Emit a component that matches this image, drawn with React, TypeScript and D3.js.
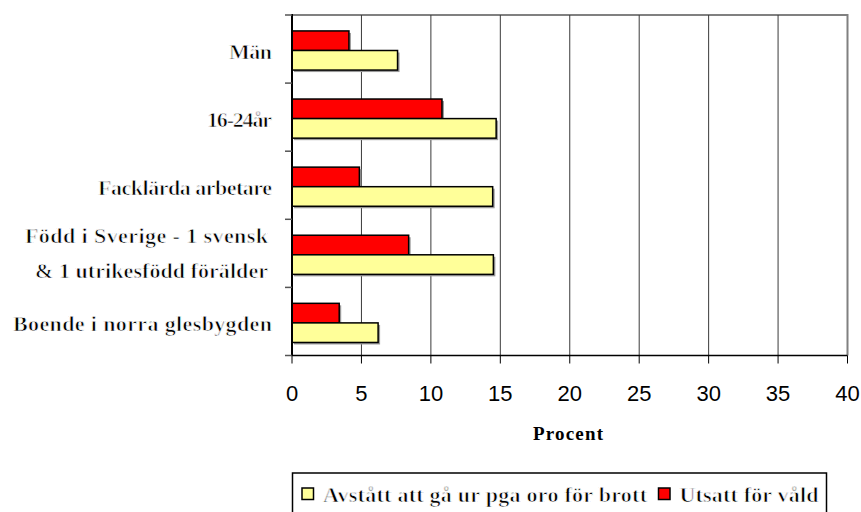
import React, { useRef, useEffect } from 'react';
import * as d3 from 'd3';

const categories = [
  'Män',
  '16-24år',
  'Facklärda arbetare',
  'Född i Sverige - 1 svensk|& 1 utrikesfödd förälder',
  'Boende i norra glesbygden',
];
const seriesNames = ['Avstått att gå ur pga oro för brott', 'Utsatt för våld'];
const avstatt = [7.6, 14.7, 14.45, 14.5, 6.2];
const utsatt = [4.1, 10.8, 4.85, 8.4, 3.4];
const xTicks = [0, 5, 10, 15, 20, 25, 30, 35, 40];

// measured widths of the label lines in the reference (px)
const labelWidths: Record<string, number> = {
  'Män': 43,
  '16-24år': 65,
  'Facklärda arbetare': 174,
  'Född i Sverige - 1 svensk': 243,
  '& 1 utrikesfödd förälder': 233,
  'Boende i norra glesbygden': 259,
};

const App = () => {
  const svgRef = useRef<SVGSVGElement>(null);

  useEffect(() => {
    const svg = d3.select(svgRef.current);
    svg.selectAll('*').remove();

    const left = 292;
    const right = 847.5;
    const top = 15;
    const bottom = 355.5;
    const serif = "'Liberation Serif', 'Times New Roman', serif";
    const sans = "'Liberation Sans', Arial, sans-serif";

    // only the bold serif face is installed: thin it with a white outline
    const serifText = (sel: any, size: number) =>
      sel.style('font-family', serif)
        .style('font-weight', 'bold')
        .style('font-size', `${size}px`)
        .attr('fill', '#000')
        .attr('stroke', '#fff')
        .attr('stroke-width', 0.75)
        .attr('lengthAdjust', 'spacing');

    const x = d3.scaleLinear().domain([0, 40]).range([left, right]);
    const y = d3.scaleBand().domain(categories).range([top, bottom]);
    const inner = d3.scaleBand()
      .domain(['utsatt', 'avstatt'])
      .range([0, y.bandwidth()])
      .paddingOuter(0.74)
      .align(0.55);

    svg.append('path')
      .attr('d', `M${left},${top}H${right}V${bottom}`)
      .attr('fill', 'none')
      .attr('stroke', '#808080')
      .attr('stroke-width', 2);

    svg.append('g')
      .selectAll('line')
      .data(xTicks.slice(1, -1))
      .enter().append('line')
      .attr('x1', d => x(d))
      .attr('x2', d => x(d))
      .attr('y1', top)
      .attr('y2', bottom)
      .attr('stroke', '#3a3a3a')
      .attr('stroke-width', 1);

    const rows = svg.append('g')
      .selectAll('g')
      .data(categories.map((c, i) => ({ c, a: avstatt[i], u: utsatt[i] })))
      .enter().append('g')
      .attr('transform', d => `translate(0,${y(d.c)})`);

    const drawBar = (key: string, val: (d: any) => number, fill: string) => {
      rows.append('rect')
        .attr('x', x(0) + 2)
        .attr('y', inner(key)! + 2)
        .attr('width', d => x(val(d)) - x(0))
        .attr('height', inner.bandwidth())
        .attr('fill', '#9a9a9a');
      rows.append('rect')
        .attr('x', x(0))
        .attr('y', inner(key)!)
        .attr('width', d => x(val(d)) - x(0))
        .attr('height', inner.bandwidth())
        .attr('fill', fill)
        .attr('stroke', '#000')
        .attr('stroke-width', 1.5);
    };
    drawBar('utsatt', d => d.u, '#ff0000');
    drawBar('avstatt', d => d.a, '#ffff99');

    // category labels
    rows.each(function (d) {
      const lines = d.c.split('|');
      const cy = y.bandwidth() / 2;
      const g = d3.select(this);
      lines.forEach((l: string, i: number) => {
        const offset = lines.length === 1 ? 10 : (i === 0 ? -10.3 : 24.3);
        const w = labelWidths[l];
        const xe = lines.length === 1 ? 272 : 268;
        serifText(g.append('text'), 22)
          .attr('x', xe - w)
          .attr('y', cy + offset)
          .attr('textLength', w)
          .text(l);
      });
    });

    // left axis
    svg.append('line')
      .attr('x1', left).attr('x2', left)
      .attr('y1', top - 1).attr('y2', bottom)
      .attr('stroke', '#000').attr('stroke-width', 2);
    svg.append('g')
      .selectAll('line')
      .data(d3.range(categories.length + 1))
      .enter().append('line')
      .attr('x1', left - 7).attr('x2', left)
      .attr('y1', i => top + i * y.step())
      .attr('y2', i => top + i * y.step())
      .attr('stroke', '#555').attr('stroke-width', 1.5);

    // bottom axis
    svg.append('line')
      .attr('x1', left).attr('x2', right)
      .attr('y1', bottom).attr('y2', bottom)
      .attr('stroke', '#000').attr('stroke-width', 1.5);
    const xt = svg.append('g')
      .selectAll('g')
      .data(xTicks)
      .enter().append('g')
      .attr('transform', d => `translate(${x(d)},0)`);
    xt.append('line')
      .attr('y1', bottom).attr('y2', bottom + 8)
      .attr('stroke', '#000').attr('stroke-width', 1);
    xt.append('text')
      .attr('y', 401)
      .attr('text-anchor', 'middle')
      .style('font-family', sans)
      .style('font-size', '22px')
      .attr('fill', '#000')
      .text(d => d);

    svg.append('text')
      .attr('x', 533)
      .attr('y', 439.5)
      .attr('textLength', 70)
      .attr('lengthAdjust', 'spacing')
      .style('font-family', serif)
      .style('font-weight', 'bold')
      .style('font-size', '19px')
      .text('Procent');

    // legend
    const lg = svg.append('g');
    lg.append('rect')
      .attr('x', 292.5).attr('y', 473)
      .attr('width', 534).attr('height', 45)
      .attr('fill', '#fff')
      .attr('stroke', '#000').attr('stroke-width', 1.5);
    const items = [
      { name: seriesNames[0], fill: '#ffff99', x: 302, w: 324 },
      { name: seriesNames[1], fill: '#ff0000', x: 658.5, w: 139 },
    ];
    items.forEach(it => {
      lg.append('rect')
        .attr('x', it.x).attr('y', 488)
        .attr('width', 11.5).attr('height', 11.5)
        .attr('fill', it.fill)
        .attr('stroke', '#000').attr('stroke-width', 1.5);
      serifText(lg.append('text'), 22)
        .attr('x', it.x + 21).attr('y', 502)
        .attr('textLength', it.w)
        .text(it.name);
    });
  }, []);

  return (
    <svg
      ref={svgRef}
      width={861}
      height={512}
      style={{ position: 'absolute', left: 0, top: 0, background: '#fff' }}
    />
  );
};

export default App;
